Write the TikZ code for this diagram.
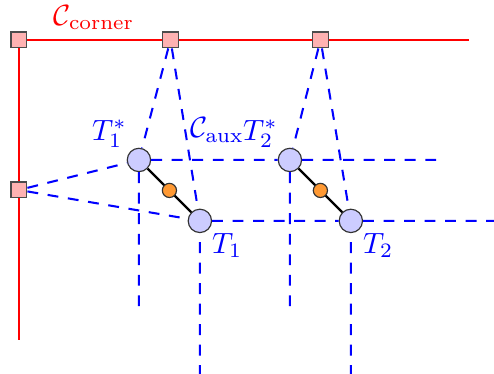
\documentclass[tikz,border=0pt]{standalone}
\usepackage{amsmath, amssymb}
\usepackage{tikz}
\usetikzlibrary{calc,positioning}
\usepackage{xcolor}

\begin{document}
\begin{tikzpicture}[scale=0.36,
    box/.style={draw=black!70,fill=red!30,minimum size=0.19cm,inner sep=0pt},
    tpt/.style={circle,draw=black!80,fill=blue!20,minimum size=0.28cm,inner sep=0pt},
    mid/.style={circle,draw=black!80,fill=orange!80,minimum size=0.17cm,inner sep=0pt},
    aux/.style={blue,dash pattern=on 3.7pt off 3.3pt,line width=0.7pt},
    lab/.style={blue,inner sep=1pt}]
        \clip (-0.63,-11.13) rectangle (15.83,1.33);
        % corner cell
        \node[box] (s0) at (0,0) {};
        \node[box] (s1) at (5.05,0) {};
        \node[box] (s2) at (10.05,0) {};
        \node[box] (s3) at (0,-5) {};
        \coordinate (rend) at (15,0);
        \coordinate (rbot) at (0,-10);
        \draw[red,semithick] (s0) -- (s1) -- (s2) -- (rend);
        \draw[red,semithick] (s0) -- (s3) -- (rbot);
        \node[red] (ccorner) at (2.5,0.75) {$\mathcal{C}_{\text{corner}}$};
        % aux cell
        \node[tpt] (t1s) at (4,-4) {};
        \node[tpt] (t1) at (6.03,-6.03) {};
        \node[tpt] (t2s) at (9.03,-4) {};
        \node[tpt] (t2) at (11.06,-6.03) {};
        \coordinate (h1) at (14,-4);
        \coordinate (h2) at (16.2,-6.03);
        \coordinate (v1) at (4,-8.95);
        \coordinate (v2) at (9.03,-8.95);
        \coordinate (v3) at (6.03,-11.2);
        \coordinate (v4) at (11.06,-11.2);
        \draw[aux] (s1) -- (t1s);
        \draw[aux] (s1) -- (t1);
        \draw[aux] (s2) -- (t2s);
        \draw[aux] (s2) -- (t2);
        \draw[aux] (s3) -- (t1s);
        \draw[aux] (s3) -- (t1);
        \draw[aux] (t1s) -- (t2s) -- (h1);
        \draw[aux] (t1) -- (t2) -- (h2);
        \draw[aux] (t1s) -- (v1);
        \draw[aux] (t2s) -- (v2);
        \draw[aux] (v3) -- (t1);
        \draw[aux] (v4) -- (t2);
        \draw[thick] (t1s) -- (t1);
        \draw[thick] (t2s) -- (t2);
        \node[mid] (m1) at ($(t1s)!0.5!(t1)$) {};
        \node[mid] (m2) at ($(t2s)!0.5!(t2)$) {};
        \node[lab,above left=0pt of t1s] (lt1s) {$T_1^*$};
        \node[lab,above left=0pt of t2s] (lt2s) {$T_2^*$};
        \node[lab,below right=0pt of t1] (lt1) {$T_1$};
        \node[lab,below right=0pt of t2] (lt2) {$T_2$};
        \node[lab] (caux) at (6.6,-3) {$\mathcal{C}_{\text{aux}}$};
      \end{tikzpicture}
\end{document}
